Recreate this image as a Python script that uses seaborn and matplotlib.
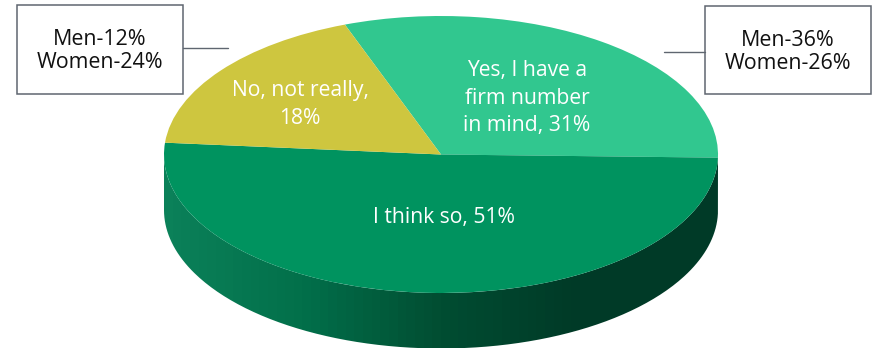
import numpy as np
import matplotlib
matplotlib.use("Agg")
import matplotlib.pyplot as plt
from matplotlib.patches import PathPatch, Rectangle
from matplotlib.path import Path
import seaborn as sns

# Survey shares for the three answers
shares = [31, 51, 18]
answer_labels = ["Yes, I have a\nfirm number\nin mind, 31%", "I think so, 51%", "No, not really,\n18%"]
men_women_no = ["Men-12%\nWomen-24%"]
men_women_yes = ["Men-36%\nWomen-26%"]

top_colors = ["#31C78F", "#00935F", "#CEC63F"]
rim_colors = ["#0B8159", "#026F4A", "#014D32", "#003A27", "#003A27"]

sns.set_theme(style="white")
plt.rcParams["font.family"] = ["Open Sans", "DejaVu Sans"]

W, H = 874, 349
CX, CY, RX, RY = 441.0, 154.5, 277.0, 138.5
DEPTH = 55.5 / RY

fig = plt.figure(figsize=(W / 100, H / 100), dpi=100)
ax = fig.add_axes([0, 0, 1, 1])


def to_x(px):
    return (px - CX) / RX


def to_y(py):
    return (CY - py) / RY


# Flat top of the disc: a unit pie stretched by the axis limits
ax.pie(shares, colors=top_colors, startangle=110.3, counterclock=False,
       radius=1, center=(0, 0), wedgeprops={"linewidth": 0, "zorder": 3})

# Rim of the disc: a horizontal shading clipped to the visible lower band
t = np.linspace(np.pi, 2 * np.pi, 240)
rim_x = np.r_[np.cos(t), np.cos(t[::-1])]
rim_y = np.r_[np.sin(t), np.sin(t[::-1]) - DEPTH]
rim_path = Path(np.c_[rim_x, rim_y])
rim_patch = PathPatch(rim_path, fc="none", ec="none", transform=ax.transData)
ax.add_patch(rim_patch)
cmap = sns.blend_palette(rim_colors, n_colors=64, as_cmap=True)
shade = ax.imshow(np.linspace(0, 1, 64)[None, :], cmap=cmap, aspect="auto",
                  extent=[-1, 1, -1 - DEPTH, 0], zorder=2, interpolation="nearest")
shade.set_clip_path(rim_patch)

ax.set_aspect("auto")
ax.set_xlim(to_x(0), to_x(W))
ax.set_ylim(to_y(H), to_y(0))
ax.axis("off")

# Answer labels on the disc
label_pos = [(527, 98), (444, 217), (300, 104.5)]
for text, (px, py) in zip(answer_labels, label_pos):
    ax.text(to_x(px), to_y(py), text, color="white", fontsize=15.25, ha="center",
            va="center", linespacing=1.4, zorder=5)

# Call-out boxes with their leader lines
EDGE = "#5F6670"
callouts = [
    (men_women_no[0], (17, 5, 183, 94), (183, 228, 48), (100, 51)),
    (men_women_yes[0], (705, 6, 871, 94), (664, 705, 52), (788, 52)),
]
for text, (x0, y0, x1, y1), (lx0, lx1, ly), (tx, ty) in callouts:
    ax.add_patch(Rectangle((to_x(x0), to_y(y1)), to_x(x1) - to_x(x0), to_y(y0) - to_y(y1),
                           fc="white", ec=EDGE, lw=1.1, zorder=6))
    ax.plot([to_x(lx0), to_x(lx1)], [to_y(ly), to_y(ly)], color=EDGE, lw=1.0, zorder=6)
    ax.text(to_x(tx), to_y(ty), text, color="#111111", fontsize=15.4, ha="center",
            va="center", linespacing=1.1, zorder=7)

fig.savefig("out.png", dpi=100, facecolor="white")
